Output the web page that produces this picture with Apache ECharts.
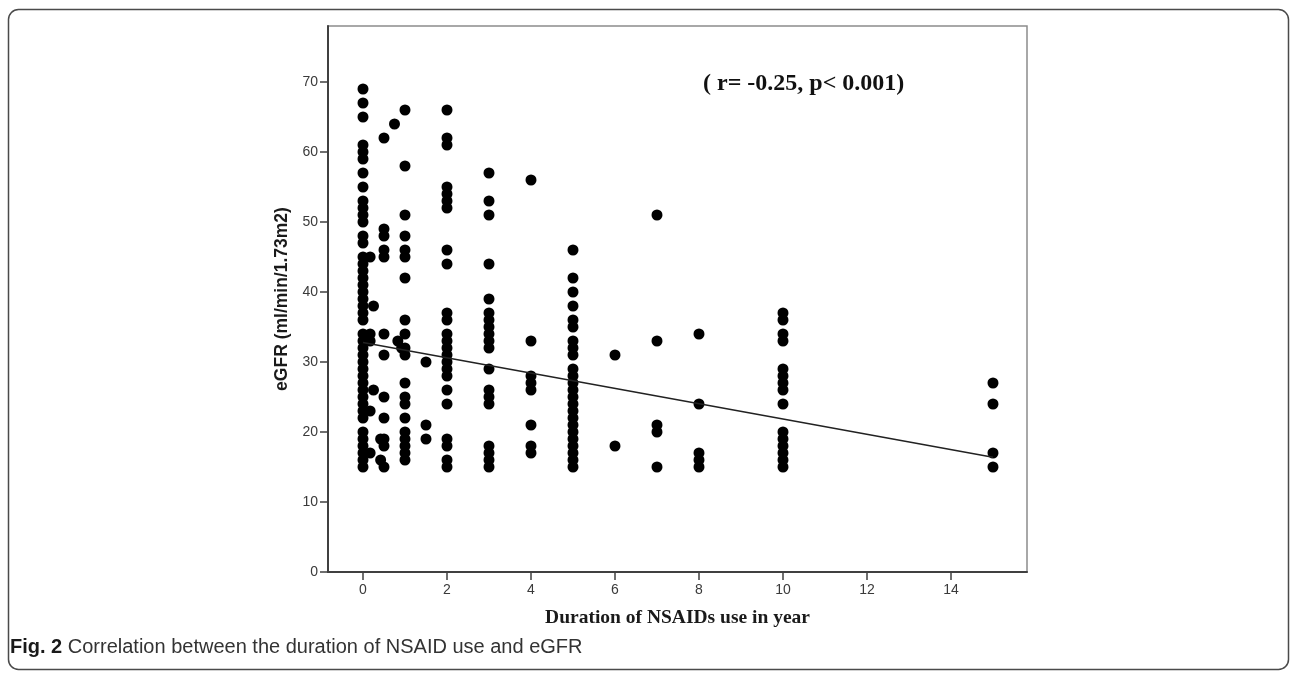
<!DOCTYPE html>
<html>
<head>
<meta charset="utf-8">
<style>
html,body{margin:0;padding:0;background:#fff;}
#chart{width:1292px;height:674px;}
</style>
<script src="https://cdn.jsdelivr.net/npm/echarts@6/dist/echarts.min.js"></script>
</head>
<body>
<div id="chart"></div>
<script>
// eGFR values read per duration (years) column
const egfr_0    = [69,67,65,61,60,59,57,55,53,52,51,50,48,47,45,44,43,42,41,40,39,38,37,36,34,33,32,31,30,29,28,27,26,25,24,23,22,20,19,18,17,16,15];
const egfr_0_17 = [45,34,33,23,17];
const egfr_0_25 = [38,26];
const egfr_0_42 = [19,16];
const egfr_0_5  = [62,49,48,46,45,34,31,25,22,19,18,15];
const egfr_0_75 = [64];
const egfr_0_83 = [33];
const egfr_0_92 = [32];
const egfr_1    = [66,58,51,48,46,45,42,36,34,32,31,27,25,24,22,20,19,18,17,16];
const egfr_1_5  = [30,21,19];
const egfr_2    = [66,62,61,55,54,53,52,46,44,37,36,34,33,32,31,30,29,28,26,24,19,18,16,15];
const egfr_3    = [57,53,51,44,39,37,36,35,34,33,32,29,26,25,24,18,17,16,15];
const egfr_4    = [56,33,28,27,26,21,18,17];
const egfr_5    = [46,42,40,38,36,35,33,32,31,29,28,27,26,25,24,23,22,21,20,19,18,17,16,15];
const egfr_6    = [31,18];
const egfr_7    = [51,33,21,20,15];
const egfr_8    = [34,24,17,16,15];
const egfr_10   = [37,36,34,33,29,28,27,26,24,20,19,18,17,16,15];
const egfr_15   = [27,24,17,15];

const durations = [0,0.17,0.25,0.42,0.5,0.75,0.83,0.92,1,1.5,2,3,4,5,6,7,8,10,15];
const columns   = [egfr_0,egfr_0_17,egfr_0_25,egfr_0_42,egfr_0_5,egfr_0_75,egfr_0_83,egfr_0_92,egfr_1,egfr_1_5,egfr_2,egfr_3,egfr_4,egfr_5,egfr_6,egfr_7,egfr_8,egfr_10,egfr_15];

// fitted line end points
const fitX = [0, 15];
const fitY = [32.8, 16.4];

const xTicks = [0,2,4,6,8,10,12,14];
const yTicks = [0,10,20,30,40,50,60,70];

const xName = 'Duration of NSAIDs use in year';
const yName = 'eGFR (ml/min/1.73m2)';
const statText = '( r= -0.25, p< 0.001)';
const captionBold = 'Fig. 2';
const captionText = ' Correlation between the duration of NSAID use and eGFR';

const points = [];
durations.forEach((d, i) => columns[i].forEach(v => points.push([d, v])));
const fitLine = fitX.map((x, i) => [x, fitY[i]]);

const chart = echarts.init(document.getElementById('chart'), null, {renderer: 'canvas'});
chart.setOption({
  animation: false,
  backgroundColor: '#fff',
  grid: {
    left: 328, right: 265, top: 26, bottom: 102,
    show: true, borderColor: '#8c8c8c', borderWidth: 1.5, backgroundColor: 'transparent'
  },
  xAxis: {
    type: 'value', min: -0.833, max: 15.81,
    axisLine: {show: true, onZero: false, lineStyle: {color: '#404040', width: 2}},
    axisTick: {show: true, length: 8, lineStyle: {color: '#404040', width: 1.5}, customValues: xTicks},
    axisLabel: {customValues: xTicks, color: '#3a3a3a', fontFamily: 'Liberation Sans', fontSize: 14, margin: 11},
    splitLine: {show: false},
    name: xName, nameLocation: 'middle', nameGap: 36,
    nameTextStyle: {fontFamily: 'Liberation Serif', fontWeight: 'bold', fontSize: 19.5, color: '#1a1a1a'}
  },
  yAxis: {
    type: 'value', min: 0, max: 78,
    axisLine: {show: true, onZero: false, lineStyle: {color: '#404040', width: 2}},
    axisTick: {show: true, length: 8, lineStyle: {color: '#404040', width: 1.5}, customValues: yTicks},
    axisLabel: {customValues: yTicks, color: '#3a3a3a', fontFamily: 'Liberation Sans', fontSize: 14, margin: 10},
    splitLine: {show: false},
    name: yName, nameLocation: 'middle', nameGap: 34, nameRotate: 90,
    nameTextStyle: {fontFamily: 'Liberation Sans', fontWeight: 'bold', fontSize: 17.5, color: '#1a1a1a'}
  },
  series: [
    {
      type: 'scatter', data: points, symbol: 'circle', symbolSize: 11,
      itemStyle: {color: '#000', opacity: 1}, z: 2
    },
    {
      type: 'line', data: fitLine, symbol: 'none', silent: true,
      lineStyle: {color: '#222', width: 1.5}, z: 3
    }
  ],
  graphic: [
    {
      type: 'rect', left: 6, top: 7, z: -1, silent: true,
      shape: {width: 1280, height: 660, r: 10},
      style: {fill: 'none', stroke: '#4a4a4a', lineWidth: 1.5}
    },
    {
      type: 'text', left: 703, top: 72, silent: true,
      style: {text: statText, fontFamily: 'Liberation Serif', fontWeight: 'bold', fontSize: 24, fill: '#111'}
    },
    {
      type: 'text', left: 10, top: 637, silent: true,
      style: {
        text: '{b|' + captionBold + '}{n|' + captionText + '}',
        rich: {
          b: {fontFamily: 'Liberation Sans', fontWeight: 'bold', fontSize: 20, fill: '#1a1a1a'},
          n: {fontFamily: 'Liberation Sans', fontSize: 20, fill: '#333'}
        }
      }
    }
  ]
});
</script>
</body>
</html>
